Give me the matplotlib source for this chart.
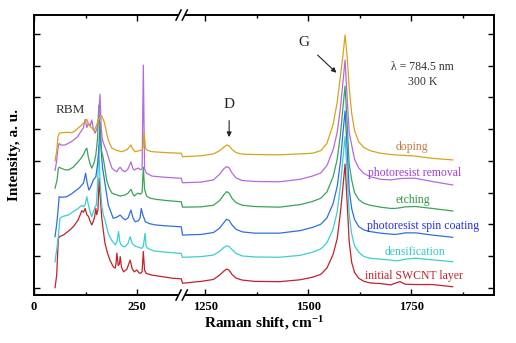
import numpy as np
import matplotlib
matplotlib.use("Agg")
import matplotlib.pyplot as plt

plt.rcParams['font.family'] = ['Liberation Serif', 'DejaVu Serif']
plt.rcParams['mathtext.fontset'] = 'custom'
plt.rcParams['mathtext.rm'] = 'Liberation Serif'
plt.rcParams['mathtext.bf'] = 'Liberation Serif:bold'
plt.rcParams['mathtext.default'] = 'bf'

# ---------------- data (stacked intensities, a.u.) -------------
labels = ["initial SWCNT layer", "densification", "photoresist spin coating",
          "etching", "photoresist removal", "doping"]
line_colors = ["#c0232d", "#3ccfcf", "#2f6fe3", "#3aa35a", "#b36ae0", "#d9a31c"]
label_colors = ["#c0232d", "#33c8c8", "#2430ee", "#2e9a40", "#9a40d6", "#c8784a"]

# low-frequency (RBM) region, per spectrum
rbm_x_initial = [51, 55, 59, 63, 71, 80, 87, 97, 107, 112, 116, 120, 124, 128, 132, 136, 140,
                 144, 147, 150, 152, 155, 158, 161, 164, 168, 172, 178, 184, 192, 197, 199,
                 201, 204, 207, 209, 212, 217, 225, 233, 238, 243, 249, 254, 258, 262, 265,
                 268, 272, 285, 310, 335, 357]
rbm_y_initial = [0.0, 0.4, 1.55, 1.62, 1.66, 1.75, 1.82, 1.95, 2.14, 2.3, 2.43, 2.38, 2.5, 2.3,
                 2.25, 2.1, 1.98, 2.1, 2.24, 2.5, 2.3, 2.45, 3.45, 2.8, 2.24, 1.8, 1.4, 1.1,
                 0.87, 0.66, 0.62, 0.8, 1.09, 0.7, 0.75, 0.98, 0.65, 0.5, 0.58, 0.87, 0.6, 0.5,
                 0.56, 0.48, 0.45, 0.5, 1.14, 0.55, 0.45, 0.4, 0.35, 0.3, 0.28]

rbm_x_dens = [51, 55, 59, 63, 70, 83, 95, 107, 116, 120, 124, 128, 132, 136, 140, 144, 148,
              151, 154, 157, 160, 164, 168, 172, 180, 188, 197, 201, 205, 208, 211, 216, 221,
              228, 233, 238, 245, 253, 261, 265, 269, 272, 276, 290, 320, 357]
rbm_y_dens = [0.82, 1.2, 1.61, 2.19, 2.25, 2.29, 2.4, 2.5, 2.6, 2.55, 2.62, 2.87, 2.6, 2.4,
              2.24, 2.4, 2.55, 2.6, 3.2, 4.5, 3.4, 2.6, 2.3, 2.14, 1.71, 1.5, 1.35, 1.45, 1.77,
              1.45, 1.35, 1.3, 1.29, 1.4, 1.61, 1.4, 1.31, 1.28, 1.24, 1.3, 1.71, 1.3, 1.24,
              1.16, 1.12, 1.08]

rbm_x_spin = [51, 55, 58, 61, 66, 79, 90, 103, 110, 116, 120, 125, 129, 133, 138, 144, 150,
              154, 157, 160, 163, 166, 172, 180, 186, 192, 200, 209, 215, 221, 228, 235, 240,
              245, 253, 257, 260, 264, 270, 280, 294, 320, 357]
rbm_y_spin = [1.61, 2.0, 2.4, 2.87, 2.85, 2.87, 2.95, 3.08, 3.15, 3.24, 3.3, 3.61, 3.3, 3.08,
              3.2, 3.4, 3.5, 3.9, 4.3, 5.2, 4.3, 3.8, 3.29, 2.61, 2.4, 2.19, 2.22, 2.29, 2.2,
              2.14, 2.2, 2.45, 2.2, 2.08, 2.11, 2.2, 2.5, 2.29, 2.08, 2.02, 1.98, 1.95, 1.92]

rbm_x_etch = [51, 56, 59, 62, 65, 75, 83, 95, 107, 115, 120, 125, 128, 132, 136, 140, 146,
              150, 154, 157, 160, 164, 168, 176, 182, 189, 200, 209, 220, 228, 235, 240, 243,
              248, 253, 258, 262, 265, 268, 273, 280, 294, 320, 357]
rbm_y_etch = [3.14, 3.4, 3.77, 3.8, 3.77, 3.72, 3.71, 3.8, 3.97, 4.1, 4.2, 4.35, 4.4, 4.1,
              3.9, 3.77, 3.95, 4.2, 4.7, 5.75, 4.9, 4.3, 4.08, 3.4, 3.15, 2.98, 2.93, 2.89,
              2.92, 2.98, 3.1, 2.95, 2.89, 2.95, 2.98, 2.95, 3.0, 3.8, 3.1, 2.89, 2.83, 2.79,
              2.75, 2.71]

rbm_x_removal = [51, 55, 58, 61, 65, 75, 90, 105, 116, 120, 124, 128, 132, 136, 140, 144,
                 148, 152, 156, 160, 163, 166, 170, 176, 183, 189, 195, 201, 205, 209, 214,
                 221, 228, 235, 240, 243, 248, 253, 258, 262, 265, 268, 272, 286, 320, 357]
rbm_y_removal = [3.7, 4.0, 4.4, 4.55, 4.5, 4.5, 4.6, 4.75, 4.97, 5.05, 5.31, 5.05, 5.19, 5.1,
                 5.29, 5.0, 4.87, 5.0, 5.3, 6.1, 5.0, 4.66, 4.5, 4.3, 4.0, 3.77, 3.7, 3.66,
                 3.75, 3.8, 3.7, 3.66, 3.75, 3.97, 3.75, 3.71, 3.75, 3.77, 3.72, 3.75, 7.02,
                 3.75, 3.62, 3.52, 3.48, 3.45]

rbm_x_doping = [51, 55, 58, 61, 70, 80, 92, 100, 108, 115, 120, 124, 128, 132, 136, 141, 146,
                151, 156, 160, 164, 168, 171, 176, 180, 185, 189, 200, 213, 225, 232, 235, 238,
                245, 255, 261, 264, 267, 270, 275, 286, 320, 357]
rbm_y_doping = [4.0, 4.3, 4.75, 4.87, 4.89, 4.9, 4.89, 4.95, 5.05, 5.12, 5.19, 5.22, 5.31,
                5.15, 5.08, 5.03, 4.95, 5.1, 5.29, 5.38, 5.42, 5.3, 5.19, 4.87, 4.66, 4.5,
                4.4, 4.33, 4.29, 4.35, 4.45, 4.5, 4.4, 4.29, 4.32, 4.34, 4.4, 4.92, 4.4, 4.33,
                4.29, 4.26, 4.24]

# high-frequency (D, G) region, shared Raman-shift grid
hf_shift = [1195, 1240, 1270, 1285, 1295, 1302, 1308, 1315, 1325, 1340, 1370, 1430, 1480,
            1510, 1530, 1545, 1560, 1570, 1578, 1584, 1589, 1594, 1599, 1605, 1612, 1622,
            1635, 1650, 1675, 1700, 1710, 1722, 1735, 1760, 1800, 1850]
hf_initial = [0.14, 0.2, 0.26, 0.4, 0.52, 0.59, 0.55, 0.42, 0.3, 0.24, 0.2, 0.19, 0.25, 0.33,
              0.42, 0.62, 1.05, 1.55, 2.4, 3.2, 3.9, 2.7, 1.45, 0.8, 0.48, 0.3, 0.2, 0.15,
              0.13, 0.09, 0.14, 0.19, 0.11, 0.1, 0.1, 0.03]
hf_dens = [0.96, 0.98, 1.03, 1.15, 1.27, 1.32, 1.3, 1.2, 1.08, 1.0, 0.97, 0.96, 1.02, 1.12,
           1.22, 1.42, 1.85, 2.4, 3.25, 4.1, 4.76, 3.6, 2.3, 1.7, 1.32, 1.12, 0.98, 0.93,
           0.9, 0.87, 0.85, 0.86, 0.9, 0.93, 0.88, 0.82]
hf_spin = [1.66, 1.68, 1.74, 1.88, 2.05, 2.16, 2.12, 1.98, 1.84, 1.76, 1.72, 1.72, 1.8, 1.9,
           2.0, 2.2, 2.65, 3.2, 4.0, 4.9, 5.58, 4.4, 3.1, 2.5, 2.15, 1.93, 1.82, 1.77, 1.72,
           1.69, 1.68, 1.7, 1.73, 1.73, 1.66, 1.59]
hf_etch = [2.54, 2.55, 2.6, 2.75, 2.93, 3.03, 2.98, 2.82, 2.68, 2.6, 2.56, 2.54, 2.62, 2.72,
           2.82, 3.02, 3.5, 4.05, 4.85, 5.7, 6.36, 5.2, 3.9, 3.4, 3.0, 2.78, 2.66, 2.6, 2.54,
           2.5, 2.5, 2.52, 2.55, 2.56, 2.5, 2.42]
hf_removal = [3.31, 3.33, 3.4, 3.58, 3.75, 3.82, 3.78, 3.62, 3.46, 3.38, 3.35, 3.34, 3.42,
              3.52, 3.62, 3.85, 4.35, 4.9, 5.7, 6.5, 7.18, 6.0, 4.9, 4.5, 4.05, 3.78, 3.6,
              3.5, 3.42, 3.4, 3.42, 3.44, 3.45, 3.45, 3.35, 3.24]
hf_doping = [4.13, 4.16, 4.22, 4.32, 4.43, 4.5, 4.47, 4.36, 4.26, 4.21, 4.2, 4.19, 4.22, 4.24,
             4.32, 4.55, 5.15, 5.85, 6.7, 7.35, 7.97, 7.3, 6.3, 5.5, 4.95, 4.6, 4.42, 4.32,
             4.24, 4.2, 4.19, 4.18, 4.17, 4.15, 4.08, 4.03]

xtick_values = [0, 250, 1250, 1500, 1750]
xtick_minor_values = [125, 1375, 1625, 1875]

# ---------------- broken-axis mapping -------------
LEFT_END = 360
RIGHT_START = 1200
GAP = 5


def to_axis(x):
    x = np.asarray(x, dtype=float)
    return np.where(x <= LEFT_END, x, x - RIGHT_START + LEFT_END + GAP)


rbm_x = [rbm_x_initial, rbm_x_dens, rbm_x_spin, rbm_x_etch, rbm_x_removal, rbm_x_doping]
rbm_y = [rbm_y_initial, rbm_y_dens, rbm_y_spin, rbm_y_etch, rbm_y_removal, rbm_y_doping]
hf_y = [hf_initial, hf_dens, hf_spin, hf_etch, hf_removal, hf_doping]

fig = plt.figure(figsize=(5.16, 3.43), dpi=100)
ax = fig.add_axes([34 / 516, 1 - 295 / 343, 460 / 516, 280 / 343])

for i in range(6):
    xs = np.concatenate([rbm_x[i], hf_shift])
    ys = np.concatenate([rbm_y[i], hf_y[i]])
    ax.plot(to_axis(xs), ys, color=line_colors[i], lw=0.9, zorder=2 + i * 0.1)

XMAX = 1950
ax.set_xlim(0, float(to_axis([XMAX])[0]))
ax.set_ylim(-0.23, 8.6)

ax.set_xticks(to_axis(xtick_values))
ax.set_xticklabels([str(v) for v in xtick_values], fontweight='bold', fontsize=9)
ax.set_xticks(to_axis(xtick_minor_values), minor=True)
ax.set_yticks(np.arange(0, 9))
ax.set_yticklabels([])
ax.tick_params(which='both', direction='in', top=True, right=True, width=1.0)
ax.tick_params(which='major', length=4)
ax.tick_params(which='minor', length=2)
ax.tick_params(axis='x', pad=4)
for sp in ax.spines.values():
    sp.set_linewidth(1.4)

ax.set_xlabel(r"Raman shift, cm$^{-1}$", fontweight='bold', fontsize=11, labelpad=1)
ax.set_ylabel("Intensity, a. u.", fontweight='bold', fontsize=11, labelpad=6)

# break marks
xlo, xhi = ax.get_xlim()
xb = (float(to_axis([LEFT_END])[0]) - 2 - xlo) / (xhi - xlo)
for yb in (0.0, 1.0):
    ax.plot([xb - 0.007, xb + 0.007], [yb, yb], transform=ax.transAxes, color='white',
            lw=3, clip_on=False, zorder=10, solid_capstyle='butt')
    for dxs in (-0.0068, 0.0068):
        ax.plot([xb + dxs - 0.0055, xb + dxs + 0.0055], [yb - 0.018, yb + 0.018],
                transform=ax.transAxes, color='black', lw=1.1, clip_on=False, zorder=11)

# curve labels
label_pos_x = [1757, 1759, 1779, 1754, 1757, 1752]
label_pos_y = [0.37, 1.14, 1.95, 2.77, 3.61, 4.43]
for i in range(6):
    ax.text(float(to_axis([label_pos_x[i]])[0]), label_pos_y[i], labels[i],
            color=label_colors[i], fontsize=8.5, ha='center', va='center')

# annotations
ax.text(88, 5.6, "RBM", fontsize=9.5, color='#333333', ha='center', va='center')
ax.annotate("D", xy=(float(to_axis([1308])[0]), 4.75),
            xytext=(float(to_axis([1308])[0]), 5.78), fontsize=11, color='#222222',
            ha='center', va='center',
            arrowprops=dict(arrowstyle='-|>', color='#222222', lw=0.8, mutation_scale=7,
                            shrinkA=5, shrinkB=0))
ax.annotate("G", xy=(float(to_axis([1568])[0]), 6.78),
            xytext=(float(to_axis([1490])[0]), 7.73), fontsize=11, color='#222222',
            ha='center', va='center',
            arrowprops=dict(arrowstyle='-|>', color='#222222', lw=0.8, mutation_scale=7,
                            shrinkA=5, shrinkB=0))
ax.text(float(to_axis([1776])[0]), 6.97, "λ = 784.5 nm", fontsize=8.5, color='#333333',
        ha='center', va='center')
ax.text(float(to_axis([1776])[0]), 6.5, "300 K", fontsize=8.5, color='#333333',
        ha='center', va='center')

fig.savefig("out.png", dpi=100)
